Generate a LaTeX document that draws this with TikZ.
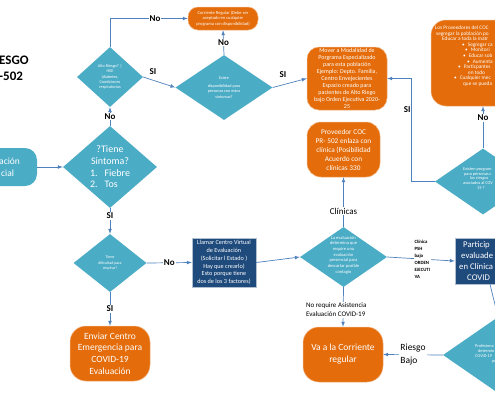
\documentclass[tikz,border=0pt]{standalone}
\usepackage{fontspec}
\setmainfont{Carlito}
\usepackage{tikz}
\usetikzlibrary{arrows}
\usetikzlibrary{shapes.geometric}
\usetikzlibrary{positioning}
\definecolor{tealdia}{HTML}{4BACC6}
\definecolor{orangebox}{HTML}{E46C0A}
\definecolor{navybox}{HTML}{1F4A7C}
\definecolor{flowline}{HTML}{4F81BD}
\newcommand{\fsz}[2]{\fontsize{#1}{#2}\selectfont}

\begin{document}
\begin{tikzpicture}[x=1pt, y=-1pt,
    dia/.style={diamond, fill=tealdia, inner sep=0pt},
    dtxt/.style={text=white, align=center, inner sep=0pt},
    obox/.style={rectangle, rounded corners=14pt, fill=orangebox, draw=orangebox!50!white, line width=0.5pt, text=white, align=center, inner sep=0pt},
    nbox/.style={rectangle, fill=navybox, draw=navybox!35!white, line width=0.5pt, text=white, align=center, inner sep=0pt},
    tbox/.style={rectangle, rounded corners=12pt, fill=tealdia, inner sep=0pt},
    cuttxt/.style={text=white, align=left, anchor=west, inner sep=0pt},
    flow/.style={draw=flowline, line width=0.7pt, -latex},
    lbl/.style={font=\fsz{9}{10}\bfseries, inner sep=1pt},
    blank/.style={fill=white, inner sep=1pt}
  ]
    \useasboundingbox (0, 0) rectangle (495, 400);
    \clip (0, 0) rectangle (495, 400);
    \fill[white] (0, 0) rectangle (495, 400);

    % title, cut at the left edge
    \node[font=\fsz{13}{16}\bfseries, align=left, anchor=west, inner sep=0pt] (titulo) at (-1, 68) {ESGO\\-502};

    % upper row
    \node[obox, rounded corners=10pt, minimum width=70pt, minimum height=23pt, font=\fsz{4.5}{5.5}] (corr) at (223, 18.5)
      {Corriente Regular (Debe ser\\ aceptado en cualquier\\ programa con disponibilidad)};
    \node[dia, minimum width=66pt, minimum height=60pt] (alto) at (110, 77) {};
    \node[dtxt, font=\fsz{4.2}{5.4}] at (alto) {Alto Riesgo? |\\ HEE\\ (diabetes,\\ Condiciones\\ respiratorias};
    \node[dia, minimum width=97pt, minimum height=65pt] (exist) at (224, 87.5) {};
    \node[dtxt, font=\fsz{4.2}{5.5}] at (exist) {Existe\\[2.5pt] disponibilidad para\\ personas con estos\\ sintomas?};
    \node[obox, rounded corners=12pt, minimum width=80pt, minimum height=63pt, font=\fsz{6}{6.9}] (mover) at (347, 78.5)
      {Mover a Modalidad de\\ Porgrama Especializado\\ para esta población\\ Ejemplo: Depto. Familia,\\ Centro Envejecientes\\ Espacio creado para\\ pacientes de Alto Riego\\ bajo Orden Ejecutiva 2020-\\ 25};
    \node[obox, rounded corners=15pt, minimum width=104pt, minimum height=86pt] (segreg) at (483, 63) {};
    \node[cuttxt, font=\fsz{5.3}{5.6}] at (433, 56)
      {\hspace*{2pt}Los Proveedores del COC\\ \hspace*{3pt}segregar la población po\\ \hspace*{9pt}Educar a toda la matr\\
       \hspace*{29pt}•\hspace{3pt}Segregar ca\\ \hspace*{32pt}•\hspace{3pt}Monitori\\ \hspace*{30pt}•\hspace{3pt}Educar sob\\
       \hspace*{34pt}•\hspace{3pt}Aumenta\\ \hspace*{25pt}•\hspace{3pt}Particpantes\\ \hspace*{35pt}en todo\\
       \hspace*{21pt}•\hspace{3pt}Cualquier mec\\ \hspace*{30pt}que se pueda};

    % middle row
    \node[tbox, minimum width=74pt, minimum height=38pt] (inicio) at (0, 167) {};
    \node[cuttxt, font=\fsz{9.5}{11.5}] at (-1, 167.5) {ación\\ \hspace*{2pt}cial};
    \node[dia, minimum width=94pt, minimum height=82pt] (sint) at (110, 167) {};
    \node[dtxt, font=\fsz{10}{11.7}] at (sint)
      {?Tiene\\ Sintoma?\\ \makebox[40pt][l]{1.\hspace{7pt}Fiebre}\\ \makebox[40pt][l]{2.\hspace{7pt}Tos}};
    \node[obox, rounded corners=14pt, minimum width=73pt, minimum height=55pt, font=\fsz{7.3}{9}] (prov) at (343.5, 149.5)
      {Proveedor COC\\ PR- 502 enlaza con\\ clínica (Posibilidad\\ Acuerdo con\\ clínicas 330};
    \node[dia, minimum width=96pt, minimum height=66pt] (exisp) at (483, 181.5) {};
    \node[cuttxt, font=\fsz{4.3}{4.8}] at (462, 178.5)
      {\hspace*{1pt}Existen program\\ \hspace*{2pt}para personas c\\ \hspace*{8pt}los riesgos\\ \hspace*{1pt}asociados al COV\\ \hspace*{15pt}19 ?};

    % lower row
    \node[dia, minimum width=73pt, minimum height=58pt] (resp) at (110, 263) {};
    \node[dtxt, font=\fsz{4}{5.5}] at (resp) {Tiene\\ dificultad para\\ respirar?};
    \node[nbox, minimum width=64pt, minimum height=49pt, font=\fsz{6.2}{7.8}] (llamar) at (224, 262.5)
      {Llamar Centro Virtual\\ de Evaluación\\ (Solicitar l Estado )\\ Hay que crearlo)\\ Esto porque tiene\\ dos de los 3 factores)};
    \node[dia, minimum width=87pt, minimum height=60pt] (eval) at (343.5, 257) {};
    \node[dtxt, font=\fsz{4.5}{5.7}, yshift=2pt] at (eval)
      {La evaluación\\ determina que\\ require una\\ evaluación\\ presencial para\\ descartar posible\\ contagio};
    \node[nbox, minimum width=70pt, minimum height=46pt] (part) at (490, 261) {};
    \node[cuttxt, font=\fsz{8.7}{11}] at (459, 261.5)
      {\hspace*{4pt}Particip\\ \hspace*{2pt}evaluade\\ en Clínica\\ \hspace*{8pt}COVID};

    \node[obox, rounded corners=16pt, minimum width=80pt, minimum height=55pt, font=\fsz{9.5}{11.7}] (enviar) at (110, 353.5)
      {Enviar Centro\\ Emergencia para\\ COVID-19\\ Evaluación};
    \node[obox, rounded corners=16pt, minimum width=80pt, minimum height=55pt, font=\fsz{9.5}{12}] (va) at (343, 354.5)
      {Va a la Corriente\\ regular};
    \node[dia, minimum width=110pt, minimum height=76pt] (prof) at (498, 355) {};
    \node[cuttxt, font=\fsz{4.3}{5}] at (474, 353.5)
      {\hspace*{1pt}Profesiona\\ \hspace*{4pt}determin\\ \hspace*{1pt}COVID-19\\ \hspace*{18pt}pr};

    % connectors
    \draw[flow] (alto.north) |- node[lbl, blank, pos=0.79] {No} (corr.west);
    \draw[flow] (exist.north) -- node[lbl, blank] {No} (corr.south);
    \draw[flow] (alto.east) -- node[lbl, pos=0.3, above=4pt] {SI} (exist.west);
    \draw[flow] (exist.east) -- node[lbl, pos=0.3, above=6pt] {SI} (mover.west);
    \draw[flow] (sint.north) -- node[lbl, blank] {No} (alto.south);
    \draw[flow] (inicio.east) -- (sint.west);
    \draw[flow] (sint.south) -- node[lbl, blank, pos=0.3] {SI} (resp.north);
    \draw[flow] (resp.east) -- node[lbl, blank] {No} (llamar.west);
    \draw[flow] (resp.south) -- node[lbl, blank] {SI} (enviar.north);
    \draw[flow] (llamar.east) -- (eval.west);
    \draw[flow] (eval.north) -- node[blank, font=\fsz{9}{10}, pos=0.32] {Clínicas} (prov.south);
    \draw[flow] (eval.south) -- node[blank, font=\fsz{7}{9}, align=left, pos=0.57, xshift=-7pt]
      {No require Asistencia\\ Evaluación COVID-19} (va.north);
    \draw[flow] (eval.east) -- node[blank, font=\fsz{4.8}{7}\bfseries, align=left, pos=0.52]
      {Clínica\\ PSH\\ bajo\\ ORDEN\\ EJECUTI\\ VA} (part.west);
    \draw[flow] (part.south) -- (prof.north);
    \draw[flow] (prof.west) -- node[blank, font=\fsz{9.5}{12.5}, align=left] {Riesgo\\ Bajo} (va.east);
    \draw[flow] (exisp.west) -- ++(-23, 0) |- node[lbl, pos=0.35, left=0pt] {SI} (mover.east);
    \draw[flow] (exisp.north) -- node[lbl, blank, pos=0.73] {No} (segreg.south);
  \end{tikzpicture}
\end{document}
